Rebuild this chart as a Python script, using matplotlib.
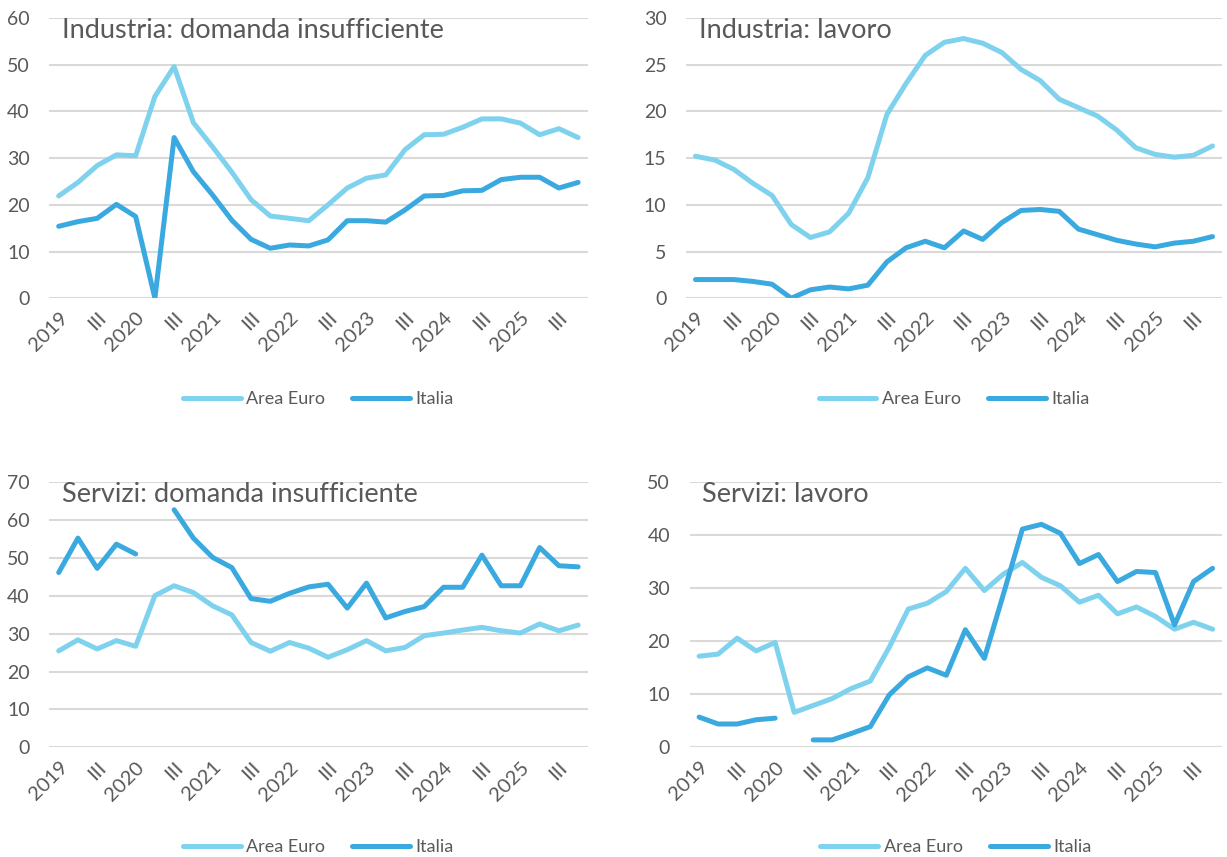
import matplotlib
matplotlib.use('Agg')
import matplotlib.pyplot as plt
import numpy as np

plt.rcParams['font.family'] = ['Lato', 'DejaVu Sans']

# quarters 2019 Q1 .. 2025 Q4
years = ['2019', '2020', '2021', '2022', '2023', '2024', '2025']
n_q = 28
tick_labels = []
for y in years:
    tick_labels += [y, 'III']

ind_dom_ea = [21.9, 24.8, 28.4, 30.7, 30.5, 43.2, 49.6, 37.6, 32.4, 27.0,
              21.1, 17.6, 17.1, 16.6, 20.0, 23.6, 25.7, 26.4, 31.8, 35.0,
              35.1, 36.6, 38.4, 38.4, 37.5, 35.0, 36.3, 34.4]
ind_dom_it = [15.4, 16.4, 17.1, 20.1, 17.5, 0.0, 34.4, 27.1, 22.1, 16.7,
              12.6, 10.7, 11.4, 11.2, 12.5, 16.6, 16.6, 16.3, 18.9, 21.9,
              22.0, 23.0, 23.1, 25.4, 25.9, 25.9, 23.6, 24.8]

ind_lav_ea = [15.2, 14.8, 13.8, 12.3, 11.0, 7.9, 6.5, 7.1, 9.1, 12.9,
              19.7, 23.0, 26.0, 27.4, 27.8, 27.3, 26.3, 24.5, 23.3, 21.3,
              20.4, 19.5, 18.0, 16.1, 15.4, 15.1, 15.3, 16.3]
ind_lav_it = [2.0, 2.0, 2.0, 1.8, 1.5, 0.0, 0.9, 1.2, 1.0, 1.4,
              3.9, 5.4, 6.1, 5.4, 7.2, 6.3, 8.1, 9.4, 9.5, 9.3,
              7.4, 6.8, 6.2, 5.8, 5.5, 5.9, 6.1, 6.6]

ser_dom_ea = [25.5, 28.4, 26.0, 28.2, 26.7, 40.1, 42.7, 40.9, 37.4, 35.0,
              27.7, 25.4, 27.7, 26.2, 23.8, 25.8, 28.2, 25.5, 26.4, 29.5,
              30.2, 31.0, 31.7, 30.8, 30.2, 32.6, 30.8, 32.3]
ser_dom_it = [46.2, 55.3, 47.3, 53.7, 51.1, np.nan, 62.8, 55.3, 50.2, 47.5,
              39.3, 38.6, 40.7, 42.4, 43.1, 36.8, 43.4, 34.2, 35.9, 37.2,
              42.3, 42.3, 50.8, 42.7, 42.7, 52.8, 48.0, 47.7]

ser_lav_ea = [17.2, 17.6, 20.6, 18.2, 19.8, 6.6, 7.9, 9.2, 11.1, 12.5,
              18.9, 26.1, 27.2, 29.4, 33.8, 29.6, 32.7, 34.9, 32.1, 30.5,
              27.4, 28.7, 25.2, 26.5, 24.7, 22.3, 23.6, 22.3]
ser_lav_it = [5.7, 4.4, 4.4, 5.2, 5.5, np.nan, 1.4, 1.4, 2.6, 3.9,
              9.9, 13.3, 15.0, 13.6, 22.2, 16.8, 28.9, 41.2, 42.1, 40.4,
              34.7, 36.4, 31.3, 33.2, 33.0, 23.1, 31.3, 33.8]

panels = [
    ('Industria: domanda insufficiente', ind_dom_ea, ind_dom_it, 60, 10, [0.040, 0.652, 0.439, 0.327]),
    ('Industria: lavoro', ind_lav_ea, ind_lav_it, 30, 5, [0.559, 0.652, 0.437, 0.327]),
    ('Servizi: domanda insufficiente', ser_dom_ea, ser_dom_it, 70, 10, [0.040, 0.128, 0.439, 0.309]),
    ('Servizi: lavoro', ser_lav_ea, ser_lav_it, 50, 10, [0.562, 0.128, 0.434, 0.309]),
]

c_ea = '#7fd2ee'
c_it = '#3aa9e0'
grey = '#595959'

fig = plt.figure(figsize=(12.27, 8.57), dpi=100)
x = np.arange(n_q)

for title, ea, it, ymax, step, pos in panels:
    ax = fig.add_axes(pos)
    ax.plot(x, ea, color=c_ea, lw=3.6, label='Area Euro', solid_capstyle='round')
    ax.plot(x, it, color=c_it, lw=3.6, label='Italia', solid_capstyle='round')
    ax.set_xlim(-0.5, n_q - 0.5)
    ax.set_ylim(0, ymax)
    ax.set_yticks(np.arange(0, ymax + 1, step))
    ax.set_xticks(x[::2])
    ax.set_xticklabels(tick_labels, rotation=45, ha='right', rotation_mode='anchor')
    ax.tick_params(axis='x', length=0, labelsize=14.5, colors=grey, pad=8)
    ax.tick_params(axis='y', length=0, labelsize=14, colors=grey, pad=14)
    ax.grid(axis='y', color='#d9d9d9', lw=1.5)
    ax.set_axisbelow(True)
    for s in ax.spines.values():
        s.set_visible(False)
    ax.text(0.024, 0.955, title, transform=ax.transAxes, fontsize=19.5,
            color=grey, va='center', ha='left')
    yl = -0.36 if pos[1] > 0.5 else -0.378
    ax.legend(loc='center', bbox_to_anchor=(0.5, yl), ncol=2, frameon=False,
              fontsize=13, handlelength=3.2, handletextpad=0.3,
              columnspacing=1.5, labelcolor=grey)

fig.savefig('out.png', dpi=100)
